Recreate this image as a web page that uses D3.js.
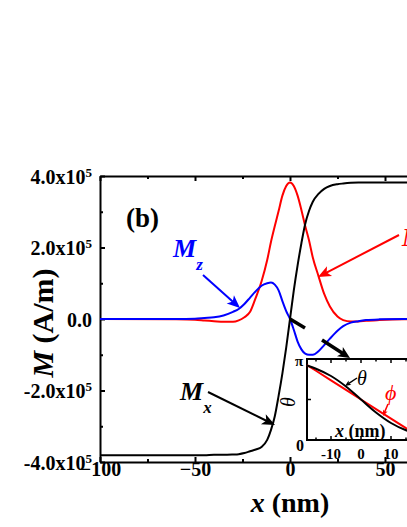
<!DOCTYPE html>
<html>
<head>
<meta charset="utf-8">
<script src="https://cdn.jsdelivr.net/npm/d3@7"></script>
<style>
  body { margin: 0; background: #fff; }
  svg { display: block; font-family: "Liberation Serif", "Times New Roman", serif; font-weight: bold; }
  .ax path, .ax line { stroke: #000; stroke-width: 2; }
  .ax text { font-family: "Liberation Serif", serif; font-weight: bold; fill: #000; }
</style>
</head>
<body>
<svg id="chart" width="407" height="527"></svg>
<script>
// main panel: position along the wall (nm) and magnetisation components (x1e5 A/m)
const xNm = [-100,-60,-50,-45,-40,-35,-30,-27,-24,-21,-18,-15,-12,-10,-8,-6,-4,-2,0,2,4,6,8,10,12,15,18,21,25,28,32,36,40,47,60,100];
const My = [0,-0.01,-0.02,-0.04,-0.06,-0.08,-0.08,-0.04,0.05,0.2,0.6,1.05,1.65,2.16,2.6,3.02,3.45,3.72,3.82,3.72,3.45,3.05,2.6,2.2,1.72,1.2,0.7,0.35,0.07,-0.03,-0.07,-0.07,-0.05,-0.03,-0.01,0];
const Mz = [0,0,0.01,0.03,0.05,0.1,0.2,0.28,0.42,0.6,0.78,0.93,1.0,1.02,0.96,0.8,0.5,0.22,0,-0.3,-0.63,-0.85,-0.97,-1.0,-1.0,-0.9,-0.73,-0.55,-0.33,-0.2,-0.1,-0.06,-0.03,-0.01,0,0];
const Mx = [-3.81,-3.81,-3.81,-3.81,-3.8,-3.8,-3.79,-3.78,-3.75,-3.7,-3.65,-3.58,-3.38,-3.1,-2.72,-2.15,-1.52,-0.8,0,0.8,1.5,2.12,2.66,3.02,3.28,3.5,3.64,3.72,3.77,3.79,3.81,3.82,3.82,3.82,3.82,3.82];
const xMajor = [-100,-50,0,50,100];
const xMinor = [-75,-25,25,75];
const yMajor = [-4e5,-2e5,0,2e5,4e5];
const yMinor = [-3e5,-1e5,1e5,3e5];

// inset: angles in units of pi
const insX = [-18,-15,-10,-5,0,5,10,15,20];
const theta = [0.92,0.88,0.79,0.66,0.5,0.34,0.21,0.12,0.07];
const phi = [0.925,0.855,0.737,0.618,0.5,0.382,0.264,0.146,0.028];
const insXMajor = [-10,0,10];
const insXMinor = [-15,-5,5,15];

const svg = d3.select('#chart');
const x = d3.scaleLinear([-100, 100], [100, 480]);
const y = d3.scaleLinear([-4e5, 4e5], [462, 176]);

// axes, ticks pointing inward
function yLabel(sel) {
  sel.selectAll('.tick text').each(function (v) {
    const t = d3.select(this).text('');
    if (v === 0) { t.text('0.0'); return; }
    t.append('tspan').text((v / 1e5).toFixed(1) + 'x10');
    t.append('tspan').attr('dy', '-0.55em').style('font-size', '13px').text('5');
  });
}
svg.append('g').attr('class', 'ax').attr('transform', 'translate(0,462)')
  .call(d3.axisBottom(x).tickValues(xMajor).tickSizeInner(-5).tickSizeOuter(0).tickPadding(0))
  .call(g => g.selectAll('text').style('font-size', '20px'));
svg.append('g').attr('class', 'ax').attr('transform', 'translate(0,462)')
  .call(d3.axisBottom(x).tickValues(xMinor).tickSizeInner(-3).tickFormat(''))
  .call(g => g.select('.domain').remove());
svg.append('g').attr('class', 'ax').attr('transform', 'translate(0,176)')
  .call(d3.axisTop(x).tickValues(xMajor).tickSizeInner(-5).tickSizeOuter(0).tickFormat(''));
svg.append('g').attr('class', 'ax').attr('transform', 'translate(0,176)')
  .call(d3.axisTop(x).tickValues(xMinor).tickSizeInner(-3).tickFormat(''))
  .call(g => g.select('.domain').remove());
svg.append('g').attr('class', 'ax').attr('transform', 'translate(100,0)')
  .call(d3.axisLeft(y).tickValues(yMajor).tickSizeInner(-5).tickSizeOuter(0).tickPadding(8))
  .call(g => g.selectAll('text').style('font-size', '20px').attr('dy', '0.36em'))
  .call(yLabel);
svg.append('g').attr('class', 'ax').attr('transform', 'translate(100,0)')
  .call(d3.axisLeft(y).tickValues(yMinor).tickSizeInner(-3).tickFormat(''))
  .call(g => g.select('.domain').remove());

// curves
const line = d3.line().curve(d3.curveMonotoneX);
const plot = svg.append('g').attr('fill', 'none').attr('stroke-width', 2);
[[My, '#ff0000'], [Mz, '#0000ff'], [Mx, '#000000']].forEach(([s, c]) => {
  plot.append('path')
    .attr('d', line(xNm.map((v, i) => [x(v), y(s[i] * 1e5)])))
    .attr('stroke', c);
});

function arrow(g, x1, y1, x2, y2, color, w, hl, hw) {
  const a = Math.atan2(y2 - y1, x2 - x1);
  const bx = x2 - hl * Math.cos(a), by = y2 - hl * Math.sin(a);
  const px = -Math.sin(a) * hw / 2, py = Math.cos(a) * hw / 2;
  g.append('line').attr('x1', x1).attr('y1', y1).attr('x2', bx + (x2 - bx) * 0.3).attr('y2', by + (y2 - by) * 0.3)
    .attr('stroke', color).attr('stroke-width', w);
  g.append('polygon')
    .attr('points', `${x2},${y2} ${bx + px},${by + py} ${bx + (x2 - bx) * 0.25},${by + (y2 - by) * 0.25} ${bx - px},${by - py}`)
    .attr('fill', color);
}

// inset
const ix = d3.scaleLinear([-18, 20], [307, 421]);
const iy = d3.scaleLinear([0, 1], [440, 359]);
const ins = svg.append('g');
ins.append('rect').attr('x', 307).attr('y', 359).attr('width', 114).attr('height', 81)
  .attr('fill', '#fff').attr('stroke', '#000').attr('stroke-width', 2);
const tk = ins.append('g').attr('stroke', '#000').attr('stroke-width', 1.5);
insXMajor.concat(insXMinor).forEach(v => {
  const l = insXMajor.includes(v) ? 4 : 2.5;
  tk.append('line').attr('x1', ix(v)).attr('x2', ix(v)).attr('y1', 440).attr('y2', 440 - l);
  tk.append('line').attr('x1', ix(v)).attr('x2', ix(v)).attr('y1', 359).attr('y2', 359 + l);
});
[0.5].forEach(v => tk.append('line').attr('x1', 307).attr('x2', 311).attr('y1', iy(v)).attr('y2', iy(v)));
const iline = d3.line().curve(d3.curveMonotoneX);
ins.append('path').attr('d', d3.line()(insX.map((v, i) => [ix(v), iy(phi[i])])))
  .attr('fill', 'none').attr('stroke', '#ff0000').attr('stroke-width', 2);
ins.append('path').attr('d', iline(insX.map((v, i) => [ix(v), iy(theta[i])])))
  .attr('fill', 'none').attr('stroke', '#000').attr('stroke-width', 2);
insXMajor.forEach(v => ins.append('text').attr('x', ix(v)).attr('y', 459)
  .attr('text-anchor', 'middle').style('font-size', '15px').text(v));
ins.append('text').attr('x', 299).attr('y', 366).attr('text-anchor', 'middle').style('font-size', '15px').text('π');
ins.append('text').attr('x', 300).attr('y', 451).attr('text-anchor', 'middle').style('font-size', '16px').text('0');
const ixl = ins.append('text').attr('x', 335).attr('y', 437).style('font-size', '18px');
ixl.append('tspan').style('font-style', 'italic').text('x');
ixl.append('tspan').text(' (nm)');
ins.append('text').attr('x', 357).attr('y', 385).style('font-size', '20px').style('font-style', 'italic').style('font-weight', 'normal').text('θ');
arrow(ins, 357, 378, 345, 386, '#000', 1.5, 6, 5);
ins.append('text').attr('x', 385).attr('y', 400).attr('fill', '#ff0000').style('font-size', '22px').style('font-style', 'italic').style('font-weight', 'normal').text('ϕ');
arrow(ins, 388, 404, 383, 416, '#ff0000', 1.5, 6, 5);

// annotations
const ann = svg.append('g');
ann.append('text').attr('x', 126).attr('y', 227).style('font-size', '27px').text('(b)');
function mLabel(xp, yp, sub, color) {
  const t = ann.append('text').attr('x', xp).attr('y', yp).attr('fill', color)
    .style('font-size', '26px').style('font-style', 'italic');
  t.append('tspan').text('M');
  t.append('tspan').attr('dy', 13).style('font-size', '17px').text(sub);
}
mLabel(173, 257, 'z', '#0000ff');
mLabel(180, 400, 'x', '#000');
mLabel(402, 246, 'y', '#ff0000');
arrow(ann, 203, 275, 240, 308, '#0000ff', 2, 13, 11);
arrow(ann, 208, 392, 275, 425, '#000', 2, 13, 11);
arrow(ann, 399, 235, 318, 277, '#ff0000', 2, 13, 11);
ann.append('line').attr('x1', 290).attr('y1', 319).attr('x2', 305).attr('y2', 328)
  .attr('stroke', '#000').attr('stroke-width', 3.5);
arrow(ann, 322, 340, 350, 358, '#000', 3.5, 12, 11);
ann.append('text').attr('transform', 'translate(295,402) rotate(-90)').attr('text-anchor', 'middle')
  .style('font-size', '20px').style('font-style', 'italic').style('font-weight', 'normal').text('θ');

// axis titles
const yt = svg.append('text').attr('transform', 'translate(53,323) rotate(-90)')
  .attr('text-anchor', 'middle').style('font-size', '30px');
yt.append('tspan').style('font-style', 'italic').text('M');
yt.append('tspan').text(' (A/m)');
const xt = svg.append('text').attr('x', 290).attr('y', 512)
  .attr('text-anchor', 'middle').style('font-size', '28px');
xt.append('tspan').style('font-style', 'italic').text('x');
xt.append('tspan').text(' (nm)');
</script>
</body>
</html>
